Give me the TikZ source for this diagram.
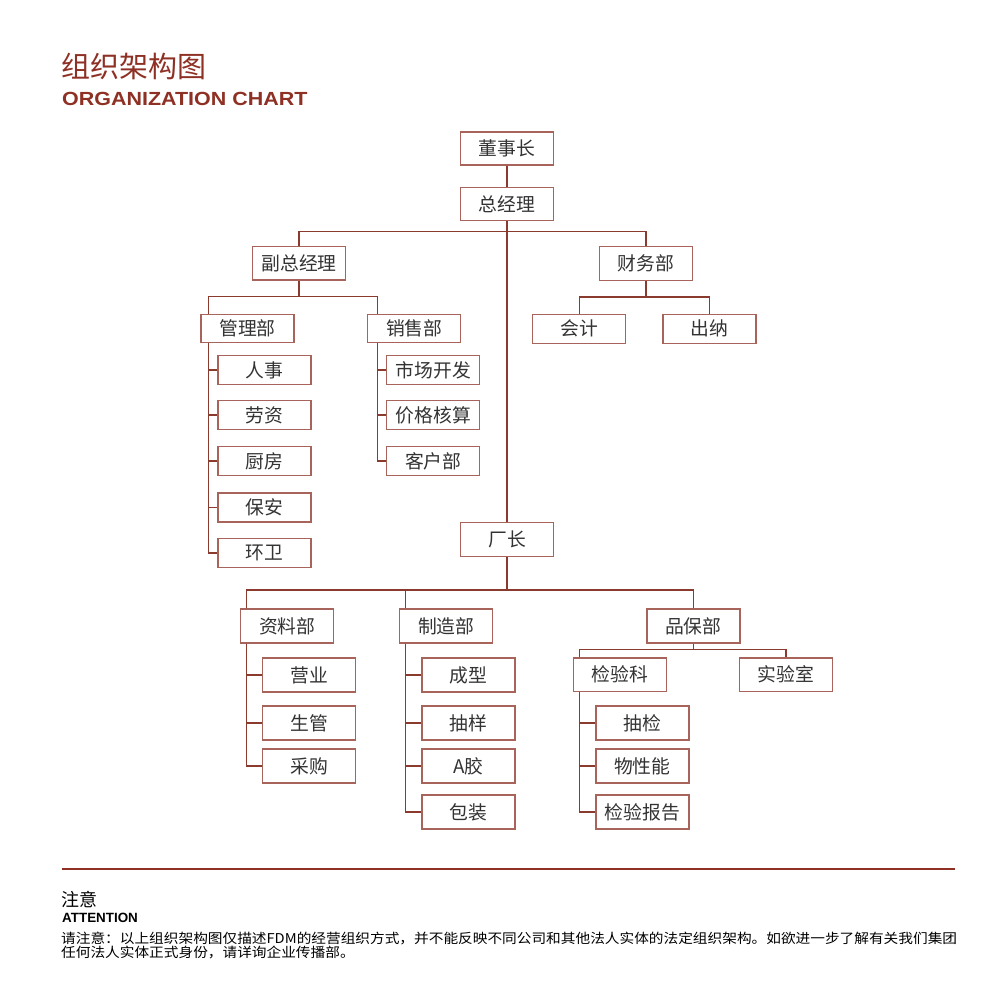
\documentclass[tikz,border=0pt]{standalone}
\usepackage{fontspec}
\setmainfont{Noto Sans CJK SC}
\newfontfamily\cjk{Noto Sans CJK SC}
\newfontfamily\cjkbody[FakeStretch=1.087]{Noto Sans CJK SC}
\newfontfamily\latinb{Liberation Sans}
\newfontfamily\titlefont[FakeStretch=1.13]{Liberation Sans}
\usetikzlibrary{calc}
\definecolor{brand}{HTML}{8E3024}
\definecolor{boxline}{HTML}{A8645A}
\definecolor{linec}{HTML}{8B3A2E}
\definecolor{txt}{HTML}{333333}
\begin{document}
\begin{tikzpicture}[x=1pt,y=-1pt,
  box/.style={draw=boxline, line width=1.4pt, fill=white, minimum width=93, minimum height=33, inner sep=0pt,
    font=\cjk\fontsize{18.8}{18.8}\selectfont, text=txt},
  wire/.style={draw=linec, line width=1.2pt},
  plain/.style={anchor=west, inner sep=0pt}
]
\fill[white] (0,0) rectangle (1000,1000);
\useasboundingbox (0,0) rectangle (1000,1000);

% titles
\node[plain, text=brand, font=\cjk\fontsize{29}{29}\selectfont] (title) at (61,66) {组织架构图};
\node[plain, text=brand, font=\titlefont\bfseries\fontsize{19}{19}\selectfont] (subtitle) at (62,98.5) {ORGANIZATION CHART};

% top levels
\node[box] (dsz) at (507,148.5) {董事长};
\node[box] (zjl) at (507,204) {总经理};
\node[box, minimum height=33.5] (fzjl) at (299,263.3) {副总经理};
\node[box, minimum height=34] (cwb) at (646,263.7) {财务部};
\node[box, minimum height=28.5] (glb) at (247.5,328.5) {管理部};
\node[box, minimum height=28.5] (xsb) at (414.2,328.5) {销售部};
\node[box, minimum height=29] (kj) at (579.2,328.8) {会计};
\node[box, minimum height=29] (cn) at (709.3,328.8) {出纳};

% management children
\node[box, minimum height=29] (rs) at (264.5,370) {人事};
\node[box, minimum height=29] (lz) at (264.5,415) {劳资};
\node[box, minimum height=29] (cf) at (264.5,461) {厨房};
\node[box, minimum height=29] (ba) at (264.5,507.5) {保安};
\node[box, minimum height=29] (hw) at (264.5,553) {环卫};

% sales children
\node[box, minimum height=29] (sc) at (433.2,370) {市场开发};
\node[box, minimum height=29] (jg) at (433.2,415) {价格核算};
\node[box, minimum height=29] (kh) at (433.2,461) {客户部};

% factory
\node[box, minimum height=34] (cz) at (507,539.5) {厂长};
\node[box, minimum height=34] (zlb) at (287.2,626) {资料部};
\node[box, minimum height=34] (zzb) at (446.2,626) {制造部};
\node[box, minimum height=34] (pbb) at (693.3,626) {品保部};
\node[box, minimum height=33.3] (jyk) at (620,674.7) {检验科};
\node[box, minimum height=33.3] (sys) at (786,674.7) {实验室};

\node[box, minimum height=34] (yy) at (309,675) {营业};
\node[box, minimum height=34] (sg) at (309,723) {生管};
\node[box, minimum height=34] (cg) at (309,766) {采购};

\node[box, minimum height=34] (cx) at (468.3,675) {成型};
\node[box, minimum height=34] (cy) at (468.3,723) {抽样};
\node[box, minimum height=34] (aj) at (468.3,766) {A胶};
\node[box, minimum height=34] (bz) at (468.3,812) {包装};

\node[box, minimum height=34] (cj) at (642.3,723) {抽检};
\node[box, minimum height=34] (wx) at (642.3,766) {物性能};
\node[box, minimum height=34] (bg) at (642.3,812) {检验报告};

% bus coordinates
\coordinate (b1) at (507,231.7);
\coordinate (b2) at (299,296.7);
\coordinate (b3) at (646,297);
\coordinate (b4) at (507,590);
\coordinate (b5) at (693.3,649.7);
\coordinate (glt) at ($(glb.north west)+(8,0)$);
\coordinate (gls) at ($(glb.south west)+(8,0)$);
\coordinate (xst) at ($(xsb.north west)+(10.3,0)$);
\coordinate (xss) at ($(xsb.south west)+(10.3,0)$);
\coordinate (zlt) at ($(zlb.north west)+(6.6,0)$);
\coordinate (zls) at ($(zlb.south west)+(6.6,0)$);
\coordinate (zzt) at ($(zzb.north west)+(6.6,0)$);
\coordinate (zzs) at ($(zzb.south west)+(6.6,0)$);
\coordinate (jyt) at ($(jyk.north west)+(7,0)$);
\coordinate (jys) at ($(jyk.south west)+(7,0)$);

% connectors
\draw[wire] (dsz.south) -- (zjl.north);
\draw[wire] (zjl.south) -- (cz.north);
\draw[wire] (fzjl.north) |- (b1) -| (cwb.north);
\draw[wire] (fzjl.south) -- (b2);
\draw[wire] (glt) |- (b2) -| (xst);
\draw[wire] (cwb.south) -- (b3);
\draw[wire] (kj.north) |- (b3) -| (cn.north);
\foreach \n in {rs,lz,cf,ba,hw} \draw[wire] (gls) |- (\n.west);
\foreach \n in {sc,jg,kh} \draw[wire] (xss) |- (\n.west);
\draw[wire] (cz.south) -- (b4);
\draw[wire] (zlt) |- (b4) -| (pbb.north);
\draw[wire] (zzt) -- (zzt |- b4);
\draw[wire] (pbb.south) -- (b5);
\draw[wire] (jyt) |- (b5) -| (sys.north);
\foreach \n in {yy,sg,cg} \draw[wire] (zls) |- (\n.west);
\foreach \n in {cx,cy,aj,bz} \draw[wire] (zzs) |- (\n.west);
\foreach \n in {cj,wx,bg} \draw[wire] (jys) |- (\n.west);

% footer
\coordinate (rl) at (62,869);
\coordinate (rr) at (954.5,869);
\draw[brand, line width=2pt] (rl) -- (rr);
\node[plain, text=black, font=\cjk\fontsize{18}{18}\selectfont] (zy) at (61,899) {注意};
\node[plain, text=black, font=\latinb\bfseries\fontsize{13.4}{13.4}\selectfont] (att) at (62,918) {ATTENTION};
\node[plain, text=black, font=\cjkbody\fontsize{13.5}{13.5}\selectfont] (l1) at (61,938) {请注意：以上组织架构图仅描述FDM的经营组织方式，并不能反映不同公司和其他法人实体的法定组织架构。如欲进一步了解有关我们集团};
\node[plain, text=black, font=\cjkbody\fontsize{13.5}{13.5}\selectfont] (l2) at (61,952) {任何法人实体正式身份，请详询企业传播部。};
\end{tikzpicture}
\end{document}
